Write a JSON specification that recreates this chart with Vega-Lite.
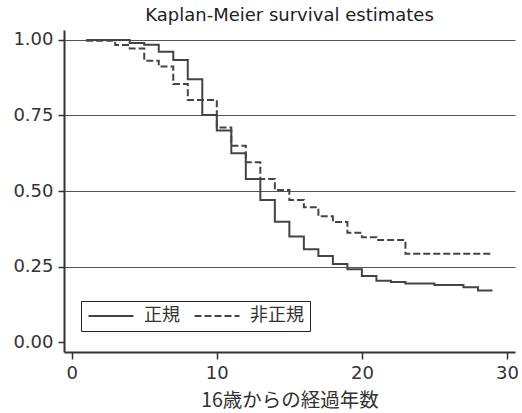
{
  "$schema": "https://vega.github.io/schema/vega-lite/v6.json",
  "width": 451,
  "height": 322,
  "autosize": {"type": "none"},
  "padding": {"left": 64, "top": 30, "right": 7, "bottom": 61},
  "background": "white",
  "title": {
    "text": "Kaplan-Meier survival estimates",
    "font": "DejaVu Sans",
    "fontSize": 18,
    "fontWeight": "normal",
    "color": "#222",
    "anchor": "middle",
    "offset": 5
  },
  "data": {
    "values": [
      {"t": 1, "S": 1.0, "g": "正規"},
      {"t": 4, "S": 0.99, "g": "正規"},
      {"t": 5, "S": 0.984, "g": "正規"},
      {"t": 6, "S": 0.961, "g": "正規"},
      {"t": 7, "S": 0.934, "g": "正規"},
      {"t": 8, "S": 0.87, "g": "正規"},
      {"t": 9, "S": 0.752, "g": "正規"},
      {"t": 10, "S": 0.7, "g": "正規"},
      {"t": 11, "S": 0.625, "g": "正規"},
      {"t": 12, "S": 0.54, "g": "正規"},
      {"t": 13, "S": 0.47, "g": "正規"},
      {"t": 14, "S": 0.398, "g": "正規"},
      {"t": 15, "S": 0.349, "g": "正規"},
      {"t": 16, "S": 0.307, "g": "正規"},
      {"t": 17, "S": 0.285, "g": "正規"},
      {"t": 18, "S": 0.258, "g": "正規"},
      {"t": 19, "S": 0.241, "g": "正規"},
      {"t": 20, "S": 0.219, "g": "正規"},
      {"t": 21, "S": 0.203, "g": "正規"},
      {"t": 22, "S": 0.199, "g": "正規"},
      {"t": 23, "S": 0.194, "g": "正規"},
      {"t": 25, "S": 0.189, "g": "正規"},
      {"t": 27, "S": 0.181, "g": "正規"},
      {"t": 28, "S": 0.171, "g": "正規"},
      {"t": 29, "S": 0.171, "g": "正規"},
      {"t": 1, "S": 0.997, "g": "非正規"},
      {"t": 3, "S": 0.983, "g": "非正規"},
      {"t": 4, "S": 0.972, "g": "非正規"},
      {"t": 5, "S": 0.931, "g": "非正規"},
      {"t": 6, "S": 0.912, "g": "非正規"},
      {"t": 7, "S": 0.854, "g": "非正規"},
      {"t": 8, "S": 0.801, "g": "非正規"},
      {"t": 10, "S": 0.71, "g": "非正規"},
      {"t": 11, "S": 0.65, "g": "非正規"},
      {"t": 12, "S": 0.595, "g": "非正規"},
      {"t": 13, "S": 0.54, "g": "非正規"},
      {"t": 14, "S": 0.503, "g": "非正規"},
      {"t": 15, "S": 0.47, "g": "非正規"},
      {"t": 16, "S": 0.446, "g": "非正規"},
      {"t": 17, "S": 0.416, "g": "非正規"},
      {"t": 18, "S": 0.397, "g": "非正規"},
      {"t": 19, "S": 0.362, "g": "非正規"},
      {"t": 20, "S": 0.347, "g": "非正規"},
      {"t": 21, "S": 0.338, "g": "非正規"},
      {"t": 23, "S": 0.292, "g": "非正規"},
      {"t": 29, "S": 0.292, "g": "非正規"}
    ]
  },
  "mark": {"type": "line", "interpolate": "step-after", "color": "#444", "strokeWidth": 2},
  "encoding": {
    "x": {
      "field": "t",
      "type": "quantitative",
      "scale": {"domain": [-0.53, 30.55], "nice": false, "zero": false},
      "axis": {
        "values": [0, 10, 20, 30],
        "title": "16歳からの経過年数",
        "grid": false,
        "domainColor": "#333",
        "domainWidth": 2,
        "tickColor": "#333",
        "tickWidth": 1.5,
        "tickSize": 7,
        "labelFont": "DejaVu Sans",
        "labelFontSize": 18,
        "labelColor": "#333",
        "labelPadding": 5,
        "labelFlush": false,
        "titleFont": "Noto Sans CJK JP",
        "titleFontSize": 19.5,
        "titleFontWeight": "normal",
        "titleColor": "#333",
        "titlePadding": 9
      }
    },
    "y": {
      "field": "S",
      "type": "quantitative",
      "scale": {"domain": [-0.033, 1.033], "nice": false, "zero": false},
      "axis": {
        "values": [0, 0.25, 0.5, 0.75, 1],
        "format": ".2f",
        "title": null,
        "grid": true,
        "gridColor": "#555",
        "gridWidth": 1,
        "gridOpacity": {"condition": {"test": "datum.value == 0", "value": 0}, "value": 1},
        "domainColor": "#333",
        "domainWidth": 2,
        "tickColor": "#333",
        "tickWidth": 1.5,
        "tickSize": 6,
        "labelFont": "DejaVu Sans",
        "labelFontSize": 18,
        "labelColor": "#333",
        "labelPadding": 5,
        "labelFlush": false
      }
    },
    "strokeDash": {
      "field": "g",
      "type": "nominal",
      "scale": {"domain": ["正規", "非正規"], "range": [[1, 0], [7, 3]]},
      "legend": {
        "title": null,
        "orient": "none",
        "legendX": 17,
        "legendY": 271,
        "direction": "horizontal",
        "strokeColor": "#222",
        "fillColor": "white",
        "padding": 6,
        "symbolType": "M-1,0H5",
        "symbolSize": 225,
        "symbolStrokeWidth": 2,
        "symbolStrokeColor": "#444",
        "symbolFillColor": "transparent",
        "labelFont": "Noto Sans CJK JP",
        "labelFontSize": 18,
        "labelColor": "#333",
        "labelOffset": 39,
        "columnPadding": 10
      }
    }
  },
  "config": {"view": {"stroke": null}}
}
